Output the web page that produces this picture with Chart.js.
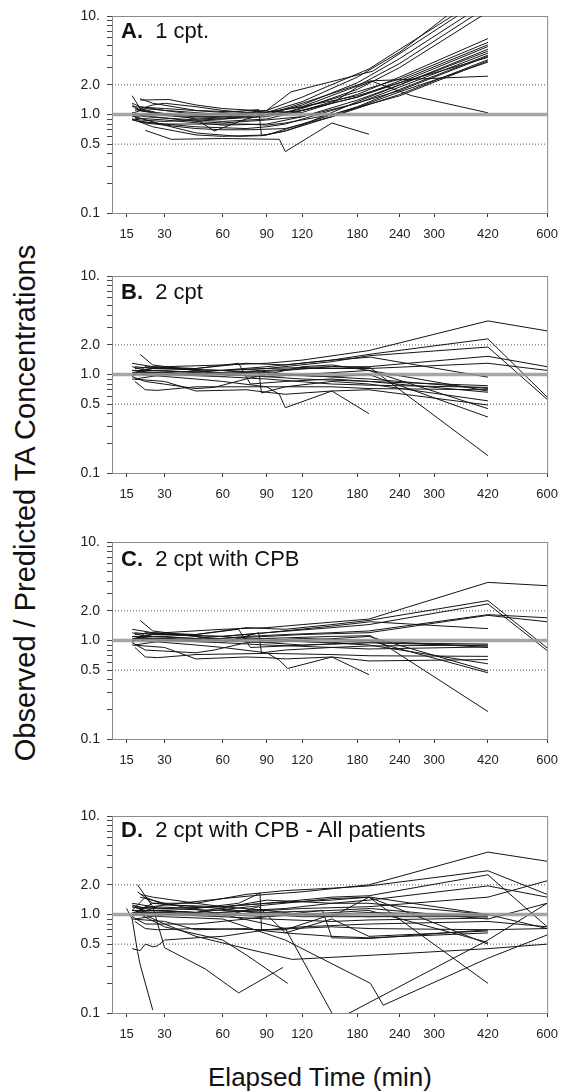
<!DOCTYPE html>
<html>
<head>
<meta charset="utf-8">
<script src="https://cdn.jsdelivr.net/npm/chart.js@4.4.1/dist/chart.umd.min.js"></script>
<style>
  body{margin:0;width:568px;height:1092px;background:#fff;position:relative;overflow:hidden;
       font-family:Arial,"Liberation Sans",Helvetica,sans-serif;color:#111;}
  .panel{position:absolute;left:0;width:568px;height:245px;}
  .panel canvas{position:absolute;left:0;top:0;}
  .ptitle{position:absolute;left:121px;font-size:22px;line-height:22px;white-space:pre;}
  .ytitle{position:absolute;left:-275px;top:486px;width:600px;height:34px;line-height:34px;
          font-size:29px;text-align:center;transform:rotate(-90deg);white-space:nowrap;}
  .xtitle{position:absolute;left:120px;top:1064px;width:400px;font-size:26px;line-height:26px;
          text-align:center;white-space:nowrap;}
</style>
</head>
<body>
<div class="ytitle">Observed / Predicted TA Concentrations</div>
<div class="xtitle">Elapsed Time (min)</div>
<script>
/* ---- data ---- */
const X_TICKS=[15,30,60,90,120,180,240,300,420,600];
const Y_TICKS=[0.1,0.2,0.3,0.4,0.5,0.6,0.7,0.8,0.9,1,2,3,4,5,6,7,8,9,10];
const Y_LABEL_AT=[0.1,0.5,1,2,10];
const Y_LABELS=['0.1','0.5','1.0','2.0','10.'];
const REF_SOLID=[1.0];
const REF_DOTTED=[2.0,0.5];
const PANEL_LETTERS=['A.','B.','C.','D.'];
const PANEL_NAMES=['1 cpt.','2 cpt','2 cpt with CPB','2 cpt with CPB - All patients'];

// each patient: [minutes, observed/predicted]
const linesA=[
  [[17,1.25],[20,1.1],[25,1.05],[45,0.95],[60,0.95],[90,1.05],[120,1.35],[180,2.4],[240,4.3],[420,21]],
  [[18,1.05],[22,1.15],[30,1.1],[45,1.0],[75,1.02],[90,1.1],[120,1.5],[195,2.9],[420,17]],
  [[17,0.95],[25,1.0],[45,0.92],[60,0.9],[90,1.0],[120,1.25],[180,2.1],[240,3.7],[420,14]],
  [[19,1.1],[30,1.0],[60,0.95],[90,1.05],[120,1.2],[180,1.95],[240,3.3],[420,12.5]],
  [[17,0.9],[20,0.88],[30,0.85],[60,0.9],[90,0.95],[120,1.15],[180,1.8],[240,3.0],[420,11]],
  [[20,1.45],[25,1.3],[45,1.1],[75,1.05],[90,1.1],[110,1.7],[200,2.75],[420,16]],
  [[17,1.0],[22,0.95],[30,0.92],[60,0.85],[90,0.9],[120,1.1],[180,1.6],[240,2.4],[420,5.9]],
  [[18,1.15],[25,1.05],[45,0.95],[75,0.95],[105,1.05],[180,1.7],[240,2.3],[420,5.4]],
  [[17,1.3],[20,1.2],[30,1.1],[60,1.0],[90,1.05],[120,1.2],[180,1.55],[240,2.1],[420,4.9]],
  [[18,0.92],[30,0.88],[60,0.78],[90,0.8],[120,0.95],[180,1.4],[240,2.0],[420,4.6]],
  [[17,1.05],[25,0.95],[45,0.85],[60,0.82],[90,0.88],[120,0.95],[180,1.3],[240,1.9],[420,4.2]],
  [[19,0.85],[30,0.8],[45,0.75],[75,0.72],[90,0.75],[105,0.8],[150,1.1],[240,1.75],[420,3.9]],
  [[17,0.88],[22,0.82],[45,0.72],[60,0.7],[78,0.7],[105,0.72],[150,0.95],[240,1.6],[420,3.6]],
  [[20,1.4],[32,1.42],[45,1.25],[60,1.15],[90,1.08],[120,1.05],[150,1.3],[180,1.9],[200,2.2],[420,2.45]],
  [[17,1.55],[20,1.15],[30,1.0],[60,0.92],[90,1.0],[120,1.3],[197,2.2],[260,1.55],[420,1.04]],
  [[22,0.69],[33,0.56],[60,0.57],[100,0.56],[105,0.42],[150,0.82],[195,0.63]],
  [[18,0.95],[30,0.78],[45,0.65],[70,0.6],[86,0.61],[105,0.68],[150,0.95],[240,1.7],[420,3.4]],
  [[17,1.2],[30,1.15],[60,1.05],[84,1.12],[86,0.61],[105,0.68],[120,0.78],[180,1.35],[240,2.0],[420,4.4]],
  [[20,1.0],[30,1.02],[45,0.9],[55,0.68],[75,0.9],[90,1.0],[120,1.1],[180,1.5],[240,2.1],[420,3.8]],
  [[18,1.1],[25,1.25],[30,1.3],[45,1.2],[60,1.1],[75,1.05],[90,1.0],[105,1.0],[120,1.1],[180,1.5],[240,2.2],[420,5.1]],
  [[17,1.0],[20,0.85],[30,0.8],[45,0.8],[75,0.8],[90,0.78],[105,0.82],[150,1.0],[240,1.55],[420,3.5]],
  [[17,0.9],[25,0.75],[45,0.62],[60,0.6],[90,0.62],[120,0.8],[180,1.2],[240,1.8],[420,4.0]]
];
const linesB=[
  [[17,1.0],[20,1.1],[30,1.2],[60,1.25],[90,1.3],[120,1.4],[195,1.75],[420,3.5],[600,2.77]],
  [[18,1.05],[25,1.15],[45,1.15],[75,1.3],[105,1.25],[150,1.4],[195,1.6],[420,2.3],[600,0.59]],
  [[17,0.95],[22,1.2],[30,1.15],[60,1.1],[90,1.15],[150,1.35],[195,1.55],[420,1.9],[600,0.56]],
  [[17,1.1],[25,1.05],[45,1.0],[75,1.05],[105,1.1],[150,1.2],[195,1.2],[420,1.53],[600,1.2]],
  [[18,0.9],[30,1.0],[60,1.05],[90,1.1],[120,1.15],[195,1.15],[420,1.3],[600,1.1]],
  [[17,1.2],[22,1.1],[45,1.05],[90,1.2],[150,1.4],[197,1.5],[420,0.94]],
  [[20,1.6],[25,1.25],[45,1.1],[60,1.0],[90,0.95],[120,0.9],[195,0.85],[420,0.77]],
  [[17,1.0],[30,1.05],[60,0.95],[90,0.9],[150,0.8],[195,0.78],[420,0.74]],
  [[18,0.85],[22,0.7],[27,0.69],[45,0.75],[90,0.75],[150,0.75],[195,0.72],[420,0.70]],
  [[17,1.3],[25,1.2],[45,1.15],[70,1.3],[78,0.8],[105,0.85],[150,0.9],[195,0.85],[420,0.66]],
  [[19,1.05],[30,1.0],[60,0.95],[84,1.1],[86,0.65],[105,0.75],[150,0.85],[195,0.8],[420,0.54]],
  [[17,0.9],[30,0.85],[45,0.68],[75,0.7],[90,0.66],[105,0.63],[150,0.68],[195,0.7],[420,0.49]],
  [[17,1.1],[30,1.1],[60,1.0],[90,0.95],[120,1.0],[195,1.1],[420,0.45]],
  [[18,1.2],[25,1.15],[60,1.1],[90,1.0],[150,0.95],[195,1.0],[420,0.37]],
  [[17,1.05],[30,1.05],[60,1.1],[90,1.15],[150,1.2],[197,1.17],[420,0.15]],
  [[20,1.0],[45,0.9],[60,0.85],[90,0.75],[100,0.63],[105,0.46],[150,0.68],[195,0.40]],
  [[17,0.95],[22,0.85],[45,0.72],[55,0.74],[75,0.9],[90,1.0],[105,1.1],[120,1.2],[150,1.25],[195,1.1],[420,0.68]],
  [[18,1.15],[25,1.2],[45,1.1],[60,1.0],[90,1.05],[120,0.98],[195,0.9],[420,0.72]]
];
const linesC=[
  [[17,1.0],[20,1.1],[30,1.2],[60,1.3],[90,1.35],[120,1.45],[195,1.65],[420,3.89],[600,3.6]],
  [[18,1.05],[25,1.15],[45,1.15],[75,1.35],[105,1.3],[150,1.45],[195,1.6],[420,2.54],[600,0.84]],
  [[17,0.95],[22,1.2],[30,1.15],[60,1.1],[90,1.2],[150,1.35],[195,1.45],[420,2.35],[600,0.79]],
  [[17,1.1],[25,1.05],[45,1.0],[75,1.1],[105,1.15],[150,1.2],[195,1.25],[420,1.83],[600,1.7]],
  [[18,0.9],[30,1.0],[60,1.05],[90,1.1],[120,1.15],[195,1.2],[420,1.8],[600,1.55]],
  [[17,1.2],[22,1.1],[45,1.05],[90,1.2],[150,1.4],[197,1.55],[420,1.32]],
  [[20,1.6],[25,1.25],[45,1.1],[60,1.0],[90,0.95],[120,0.9],[195,0.95],[420,0.92]],
  [[17,1.0],[30,1.05],[60,0.95],[90,0.9],[150,0.85],[195,0.88],[420,0.90]],
  [[18,0.85],[22,0.68],[27,0.67],[45,0.72],[90,0.74],[150,0.72],[195,0.7],[420,0.69]],
  [[17,1.3],[25,1.2],[45,1.15],[70,1.3],[78,0.85],[105,0.88],[150,0.92],[195,0.95],[420,0.88]],
  [[19,1.05],[30,1.0],[60,0.95],[84,1.2],[86,0.75],[105,0.8],[150,0.85],[195,0.82],[420,0.86]],
  [[17,0.9],[30,0.85],[45,0.65],[75,0.68],[90,0.67],[105,0.65],[150,0.68],[195,0.62],[420,0.64]],
  [[17,1.1],[30,1.1],[60,1.0],[90,0.95],[120,1.0],[195,1.1],[420,0.49]],
  [[18,1.2],[25,1.15],[60,1.1],[90,1.0],[150,0.95],[195,1.0],[420,0.47]],
  [[17,1.05],[30,1.05],[60,1.0],[90,1.05],[150,1.1],[197,1.12],[420,0.19]],
  [[20,1.0],[45,0.9],[60,0.85],[90,0.75],[100,0.63],[107,0.52],[150,0.68],[195,0.45]],
  [[17,0.95],[22,0.8],[45,0.75],[55,0.8],[75,0.95],[90,1.0],[120,1.05],[195,1.0],[420,0.85]],
  [[18,1.15],[25,1.2],[45,1.1],[60,1.0],[90,1.05],[120,0.98],[195,0.9],[420,0.58]]
];
const linesD=[
  [[17,1.2],[20,1.15],[30,1.25],[60,1.45],[90,1.6],[120,1.7],[195,2.0],[420,4.3],[600,3.47]],
  [[18,1.05],[25,1.3],[45,1.3],[75,1.6],[105,1.75],[150,1.85],[195,1.95],[420,2.78],[600,1.6]],
  [[17,0.95],[22,1.2],[30,1.15],[60,1.2],[90,1.3],[150,1.5],[195,1.55],[420,2.53],[600,0.75]],
  [[17,1.1],[25,1.05],[45,1.0],[75,1.1],[105,1.15],[150,1.3],[195,1.4],[420,1.95],[600,1.5]],
  [[18,0.9],[30,1.0],[60,1.05],[90,1.1],[120,1.15],[195,1.2],[420,1.5],[600,2.2]],
  [[17,1.2],[22,1.1],[45,1.05],[90,1.25],[150,1.45],[197,1.5],[420,1.0]],
  [[20,1.6],[25,1.5],[45,1.3],[60,1.2],[90,1.1],[120,1.0],[195,0.95],[420,0.95]],
  [[17,1.0],[30,1.05],[60,0.95],[90,0.9],[150,0.85],[195,0.88],[420,0.92]],
  [[18,0.85],[22,0.72],[27,0.7],[45,0.72],[90,0.7],[150,0.75],[195,0.72],[420,0.7],[600,0.72]],
  [[17,1.3],[25,1.2],[45,1.15],[70,1.3],[85,1.65],[86,0.7],[105,0.7],[150,1.0],[195,1.05],[420,0.98]],
  [[19,1.05],[30,1.0],[60,0.95],[84,1.2],[105,0.65],[150,0.6],[195,0.58],[420,0.65]],
  [[17,0.9],[30,0.85],[45,0.7],[75,0.72],[90,0.68],[105,0.65],[150,0.9],[195,0.6],[420,0.68]],
  [[17,1.1],[30,1.1],[60,1.0],[90,0.95],[120,1.0],[195,1.1],[420,0.52]],
  [[18,1.2],[25,1.15],[60,1.1],[90,1.05],[150,0.95],[195,1.5],[420,0.2]],
  [[17,1.05],[30,1.05],[60,1.0],[90,1.05],[150,1.1],[197,1.15],[420,0.9],[600,1.3]],
  [[15,1.15],[17,0.9],[19,0.42],[20,0.31],[25,0.107]],
  [[17,0.45],[20,0.43],[22,0.5],[25,0.47],[27,0.48],[30,0.55],[45,0.58],[60,0.6],[90,0.7],[120,0.75],[195,0.8],[420,0.85],[600,0.75]],
  [[19,2.0],[25,1.2],[30,0.46],[50,0.28],[70,0.16],[103,0.29]],
  [[20,1.0],[30,0.75],[60,0.55],[75,0.39],[107,0.2]],
  [[18,1.1],[30,0.8],[45,0.6],[75,0.45],[111,0.35],[240,0.4],[420,0.45],[600,0.5]],
  [[20,1.5],[30,1.3],[60,1.0],[90,0.8],[105,0.72],[150,0.1]],
  [[17,1.0],[30,0.95],[60,0.9],[105,0.55],[197,0.2],[215,0.12],[420,0.36],[600,0.62]],
  [[120,0.06],[160,0.09],[420,0.55],[600,1.3]],
  [[17,1.1],[22,1.5],[30,1.25],[60,1.2],[90,1.3],[150,1.4],[195,1.5],[420,0.5]],
  [[17,1.25],[25,1.1],[45,1.05],[90,1.4],[150,1.3],[195,1.3],[420,1.0]],
  [[17,0.95],[22,0.8],[45,0.8],[75,0.9],[105,1.0],[140,1.1],[150,0.58],[195,0.57],[420,0.7]],
  [[19,1.7],[25,1.3],[45,1.2],[60,1.15],[90,1.0],[120,0.95],[195,0.95],[420,1.0],[600,0.72]]
];
const PANEL_LINES=[linesA,linesB,linesC,linesD];

/* ---- layout ---- */
const PLOT_TOPS=[16,276,542,816];
const TITLE_BASE=[39,300,567,838];
const PLOT_H=197, AXIS_W=112, AXIS_H=34, RIGHT_PAD=14;
const X_MIN=10, X_MAX=600, X_SHIFT=50;

/* elapsed-time axis: log(t + 50) spacing, as in the figure */
class ElapsedScale extends Chart.Scale{
  determineDataLimits(){
    const {min,max}=this.getUserBounds();
    this.min=min; this.max=max;
  }
  buildTicks(){ return X_TICKS.map(v=>({value:v})); }
  configure(){
    super.configure();
    this._lo=Math.log(this.min+X_SHIFT); this._hi=Math.log(this.max+X_SHIFT);
  }
  getLabelForValue(v){ return String(v); }
  getPixelForValue(v){
    return this.getPixelForDecimal((Math.log(v+X_SHIFT)-this._lo)/(this._hi-this._lo));
  }
  getValueForPixel(p){
    return Math.exp(this._lo+this.getDecimalForPixel(p)*(this._hi-this._lo))-X_SHIFT;
  }
  getPixelForTick(i){ return this.getPixelForValue(this.ticks[i].value); }
}
ElapsedScale.id='elapsed';
ElapsedScale.defaults={};
Chart.register(ElapsedScale);

const framePlugin={
  id:'frame',
  beforeDatasetsDraw(chart){
    const a=chart.chartArea, c=chart.ctx;
    c.save(); c.strokeStyle='#8a8a8a'; c.lineWidth=1;
    c.strokeRect(a.left+0.5,a.top+0.5,a.right-a.left,a.bottom-a.top);
    c.restore();
  }
};

function refSet(v,solid){
  return {data:[{x:X_MIN,y:v},{x:X_MAX,y:v}],
    borderColor:solid?'rgba(150,150,150,0.85)':'#555',
    borderWidth:solid?3.5:1, borderDash:solid?[]:[1,2],
    pointRadius:0, order:solid?-1:5};
}

PANEL_LINES.forEach((lines,p)=>{
  const box=document.createElement('div');
  box.className='panel';
  box.style.top=(PLOT_TOPS[p]-16)+'px';
  const cv=document.createElement('canvas');
  cv.width=568; cv.height=16+PLOT_H+AXIS_H;
  box.appendChild(cv);
  const t=document.createElement('div');
  t.className='ptitle';
  t.style.top=(TITLE_BASE[p]-PLOT_TOPS[p]+16-19)+'px';
  t.innerHTML='<b>'+PANEL_LETTERS[p]+'</b>  '+PANEL_NAMES[p];
  box.appendChild(t);
  document.body.appendChild(box);

  const sets=lines.map(pts=>({
    data:pts.map(d=>({x:d[0],y:d[1]})),
    borderColor:'#151515', borderWidth:1, pointRadius:0, tension:0, order:1
  }));
  REF_DOTTED.forEach(v=>sets.push(refSet(v,false)));
  REF_SOLID.forEach(v=>sets.push(refSet(v,true)));

  new Chart(cv,{
    type:'line',
    data:{datasets:sets},
    options:{
      responsive:false, animation:false, devicePixelRatio:1,
      layout:{padding:{top:16,right:RIGHT_PAD,left:0,bottom:0}},
      plugins:{legend:{display:false},tooltip:{enabled:false}},
      scales:{
        x:{type:'elapsed',position:'bottom',min:X_MIN,max:X_MAX,
           afterFit:s=>{s.height=AXIS_H;},
           grid:{drawOnChartArea:false,tickLength:4,color:'#333'},
           border:{color:'#333'},
           ticks:{autoSkip:false,maxRotation:0,padding:10,color:'#222',
                  font:{family:'Arial, "Liberation Sans", sans-serif',size:13}}},
        y:{type:'logarithmic',min:0.1,max:10,
           afterFit:s=>{s.width=AXIS_W;},
           afterBuildTicks:s=>{s.ticks=Y_TICKS.map(v=>({value:v}));},
           grid:{drawOnChartArea:false,tickLength:5,color:'#444'},
           border:{color:'#333'},
           ticks:{autoSkip:false,padding:7,color:'#222',
                  font:{family:'Arial, "Liberation Sans", sans-serif',size:14},
                  callback:v=>{const i=Y_LABEL_AT.indexOf(v);return i<0?'':Y_LABELS[i];}}}
      }
    },
    plugins:[framePlugin]
  });
});
</script>
</body>
</html>
